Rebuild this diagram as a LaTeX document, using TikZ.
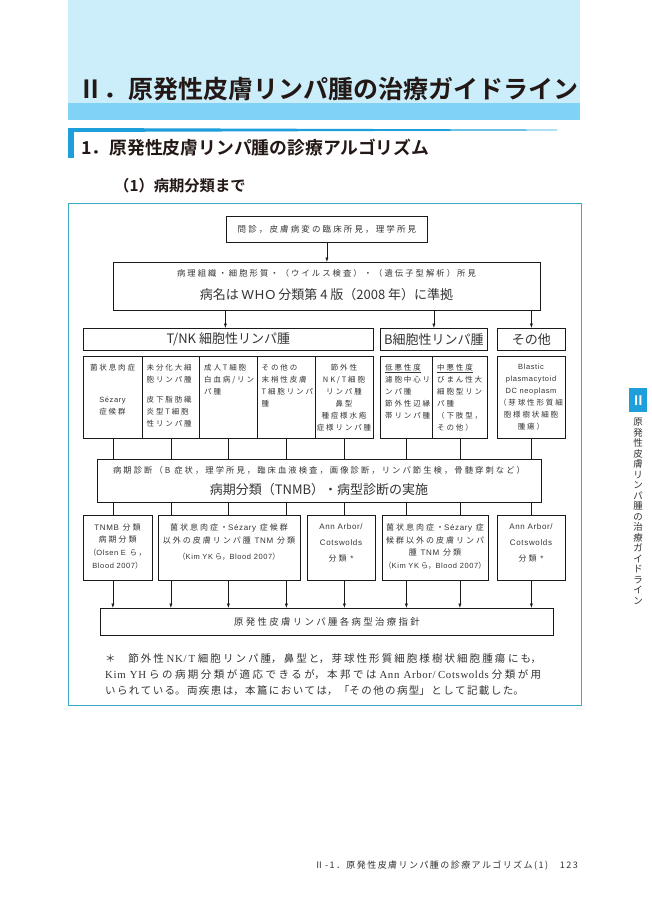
\documentclass[tikz,border=0pt]{standalone}
\usepackage{fontspec}
\usetikzlibrary{arrows.meta}
\setmainfont{Noto Sans CJK JP}[BoldFont={Noto Sans CJK JP Bold}]
\newfontfamily\jsp{Noto Sans CJK JP}[LetterSpace=25]
\newfontfamily\jfn{Noto Sans CJK JP}
\newfontfamily\jft{Noto Sans CJK JP}[LetterSpace=16]
\newfontfamily\ltn{Liberation Sans}[LetterSpace=8]
\newfontfamily\lsr{Liberation Serif}[LetterSpace=6]
\newcommand{\la}[1]{{\ltn #1}}
\newcommand{\ls}[1]{{\lsr\fontsize{10.8}{16}\selectfont #1}}
\definecolor{bandlight}{HTML}{CCEEFA}
\definecolor{banddark}{HTML}{80D3F4}
\definecolor{accent}{HTML}{1E9FDB}
\definecolor{framec}{HTML}{3BA8C4}
\definecolor{ink}{HTML}{333333}
\definecolor{titleink}{HTML}{231815}
\definecolor{boxline}{HTML}{1A1A1A}
\begin{document}
\begin{tikzpicture}[x=1pt,y=-1pt,
  box/.style={draw=boxline, line width=0.75pt, inner sep=0pt, anchor=north west},
  txt/.style={text=ink, inner sep=0pt},
  cell/.style={txt, font=\jsp\fontsize{7.5}{12}\selectfont, anchor=north},
  kt/.style={txt, font=\jsp\fontsize{8}{12.6}\selectfont, anchor=north, align=center},
  hd/.style={box, font=\fontsize{13}{15}\selectfont, text=ink},
  arr/.style={draw=boxline, line width=0.6pt, -{Latex[length=4.5pt,width=3.2pt]}},
  ln/.style={draw=boxline, line width=0.6pt}]
\useasboundingbox (0,0) rectangle (652,921);
\fill[white] (0,0) rectangle (652,921);
% header bands
\fill[bandlight] (68,0) rectangle (580,103);
\fill[banddark] (68,103) rectangle (580,120);
\node[txt, text=titleink, anchor=west, font=\fontsize{25}{27}\selectfont\bfseries] (title) at (78,89) {Ⅱ．原発性皮膚リンパ腫の治療ガイドライン};
% section heading
\fill[accent] (68,128) -- (557,129.6) -- (557,130.4) -- (68,132) -- cycle;
\fill[accent] (68,128) rectangle (74,158);
\node[txt, text=titleink, anchor=west, font=\fontsize{17.8}{19}\selectfont\bfseries] (sec) at (81,148) {1．原発性皮膚リンパ腫の診療アルゴリズム};
\node[txt, text=titleink, anchor=west, font=\fontsize{15.3}{17}\selectfont\bfseries] (sub) at (114,186) {（1）病期分類まで};
% frame
\draw[framec, line width=0.9pt] (68,203) rectangle (581,705);
% top boxes
\node[box, minimum width=201, minimum height=26, font=\jsp\fontsize{8.5}{10}\selectfont, text=ink] (q1) at (226,216) {問診，皮膚病変の臨床所見，理学所見};
\node[box, minimum width=427, minimum height=48] (q2) at (113,262) {};
\node[txt, font=\jsp\fontsize{8.3}{10}\selectfont] (q2a) at (326.5,273) {病理組織・細胞形質・（ウイルス検査）・（遺伝子型解析）所見};
\node[txt, font=\fontsize{13}{15}\selectfont] (q2b) at (326.5,295) {病名は \la{WHO} 分類第 4 版（2008 年）に準拠};
% headers
\node[hd, minimum width=290, minimum height=22] (tnk) at (83,328) {T/NK 細胞性リンパ腫};
\node[hd, minimum width=107, minimum height=22] (bc) at (380,328) {B細胞性リンパ腫};
\node[hd, minimum width=68, minimum height=22] (oth) at (497,328) {その他};
% cells
\node[box, minimum width=59, minimum height=82] (c1) at (83,356) {};
\node[box, minimum width=57, minimum height=82] (c2) at (142,356) {};
\node[box, minimum width=58, minimum height=82] (c3) at (199,356) {};
\node[box, minimum width=58, minimum height=82] (c4) at (257,356) {};
\node[box, minimum width=58, minimum height=82] (c5) at (315,356) {};
\node[box, minimum width=52, minimum height=82] (b1) at (380,356) {};
\node[box, minimum width=55, minimum height=82] (b2) at (432,356) {};
\node[box, minimum width=68, minimum height=82] (o1) at (497,356) {};
\node[cell, align=center] (c1t) at (112.5,363.6) {菌状息肉症\\[20pt]\la{Sézary}\\症候群};
\node[cell, align=left, anchor=north west] (c2t) at (146.5,363.6) {未分化大細\\胞リンパ腫\\[8pt]皮下脂肪織\\炎型T細胞\\性リンパ腫};
\node[cell, align=left, anchor=north west] (c3t) at (204,363.6) {成人T細胞\\白血病/リン\\パ腫};
\node[cell, align=left, anchor=north west] (c4t) at (261.5,363.6) {その他の\\末梢性皮膚\\T細胞リンパ\\腫};
\node[cell, align=center] (c5t) at (344,363.6) {節外性\\NK/T細胞\\リンパ腫\\鼻型\\種痘様水疱\\症様リンパ腫};
\node[cell, align=left, anchor=north west] (b1t) at (385,363.6) {\underline{低悪性度}\\濾胞中心リ\\ンパ腫\\節外性辺縁\\帯リンパ腫};
\node[cell, align=left, anchor=north west] (b2t) at (437,363.6) {\underline{中悪性度}\\びまん性大\\細胞型リン\\パ腫\\（下肢型，\\その他）};
\node[cell, align=center] (o1t) at (531,363.6) {\la{Blastic}\\\la{plasmacytoid}\\\la{DC neoplasm}\\（芽球性形質細\\胞様樹状細胞\\腫瘍）};
% staging box
\node[box, minimum width=444, minimum height=43] (stg) at (97,459) {};
\node[txt, font=\jsp\fontsize{8.3}{10}\selectfont] (stga) at (319,470) {病期診断（B 症状，理学所見，臨床血液検査，画像診断，リンパ節生検，骨髄穿刺など）};
\node[txt, font=\fontsize{13}{15}\selectfont] (stgb) at (319,490) {病期分類（TNMB）・病型診断の実施};
% classification boxes
\node[box, minimum width=69, minimum height=65] (k1) at (83,515) {};
\node[box, minimum width=142, minimum height=65] (k2) at (158,515) {};
\node[box, minimum width=68, minimum height=65] (k3) at (307,515) {};
\node[box, minimum width=106, minimum height=65] (k4) at (382,515) {};
\node[box, minimum width=68, minimum height=65] (k5) at (497,515) {};
\node[kt] (k1t) at (117.5,523.4) {\la{TNMB} 分類\\病期分類\\{\fontsize{7.5}{12}\selectfont（\la{Olsen E} ら，}\\{\fontsize{7.5}{12}\selectfont\la{Blood 2007}）}};
\node[kt] (k2t) at (229,523.4) {菌状息肉症・\la{Sézary} 症候群\\以外の皮膚リンパ腫 \la{TNM} 分類\\[4pt]{\rmfamily\fontsize{7.5}{12}\selectfont（\la{Kim YK} ら，\la{Blood 2007}）}};
\node[kt, font=\jsp\fontsize{8}{16}\selectfont] (k3t) at (341,523.4) {\la{Ann Arbor/}\\\la{Cotswolds}\\分類 \la{*}};
\node[kt] (k4t) at (435,523.4) {菌状息肉症・\la{Sézary} 症\\候群以外の皮膚リンパ\\腫 \la{TNM} 分類\\{\rmfamily\fontsize{7.5}{12}\selectfont（\la{Kim YK} ら，\la{Blood 2007}）}};
\node[kt, font=\jsp\fontsize{8}{16}\selectfont] (k5t) at (531,523.4) {\la{Ann Arbor/}\\\la{Cotswolds}\\分類 \la{*}};
% final box
\node[box, minimum width=453, minimum height=27, font=\jsp\fontsize{9.4}{11}\selectfont, text=ink] (fin) at (100,608) {原発性皮膚リンパ腫各病型治療指針};
% connectors
\draw[arr] (q1.south) -- (q2.north);
\draw[arr] ([xshift=-3pt]tnk.north |- q2.south) -- ([xshift=-3pt]tnk.north);
\draw[arr] (bc.north |- q2.south) -- (bc.north);
\draw[arr] (oth.north |- q2.south) -- (oth.north);
\foreach \c/\k in {c1/k1, c2/k2, c3/k2, c4/k2, c5/k3, b1/k4, b2/k4, o1/k5} {
  \draw[ln] (\c.south) -- (\c.south |- stg.north);
  \draw[ln] (\c.south |- stg.south) -- (\c.south |- \k.north);
  \draw[arr] (\c.south |- \k.south) -- (\c.south |- fin.north);
}
% footnote (justified paragraph)
\node[txt, anchor=north west, text width=436pt, align=justify, font=\jfn\fontsize{10.5}{16}\selectfont] (fn) at (105,653.2) {\XeTeXlinebreaklocale "ja"\XeTeXlinebreakskip=1.4pt plus 2pt\relax\noindent ＊　節外性 \ls{NK/T} 細胞リンパ腫，鼻型と，芽球性形質細胞様樹状細胞腫瘍 にも，\linebreak \ls{Kim YH} らの病期分類が適応できるが，本邦では \ls{Ann Arbor/Cotswolds} 分類が用\linebreak いられている。両疾患は，本篇においては，「その他の病型」として記載した。};
% side tab
\node[box, draw=none, fill=accent, minimum width=18, minimum height=24, text=white, font=\fontsize{13}{14}\selectfont\bfseries] (tab) at (629,388) {Ⅱ};
\node[txt, anchor=north, align=center, font=\fontsize{9.5}{10.5}\selectfont] (side) at (638,418) {原\\発\\性\\皮\\膚\\リ\\ン\\パ\\腫\\の\\治\\療\\ガ\\イ\\ド\\ラ\\イ\\ン};
% footer
\node[txt, anchor=east, font=\jft\fontsize{9}{11}\selectfont] (foot) at (578,866) {Ⅱ-1．原発性皮膚リンパ腫の診療アルゴリズム(1)　123};
\end{tikzpicture}
\end{document}
